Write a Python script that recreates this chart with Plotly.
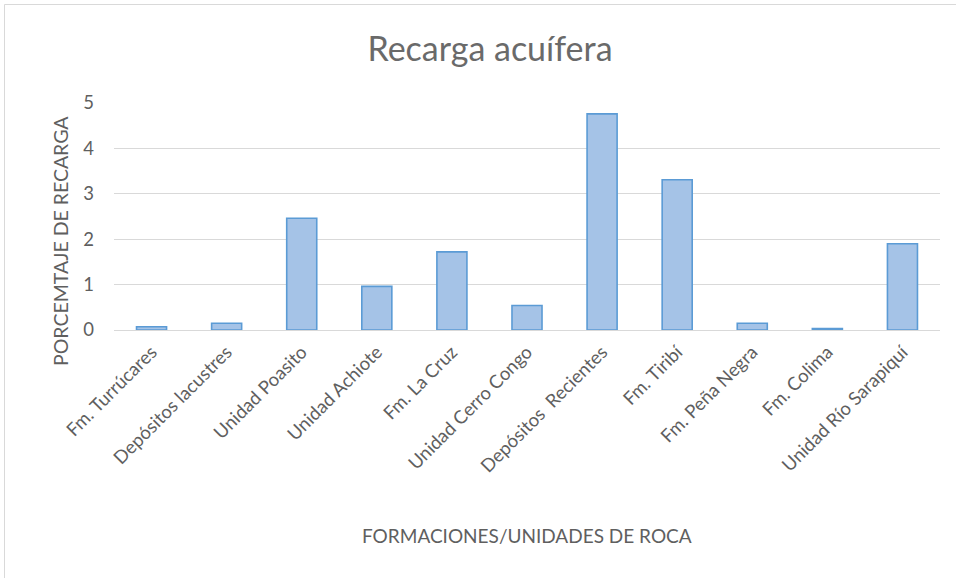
import plotly.graph_objects as go

# Recarga por formación / unidad geológica (%)
categorias = [
    "Fm. Turrúcares", "Depósitos lacustres", "Unidad Poasito", "Unidad Achiote",
    "Fm. La Cruz", "Unidad Cerro Congo", "Depósitos  Recientes", "Fm. Tiribí",
    "Fm. Peña Negra", "Fm. Colima", "Unidad Río Sarapiquí",
]
recarga = [0.07, 0.15, 2.46, 0.96, 1.72, 0.54, 4.76, 3.31, 0.15, 0.03, 1.90]
y_ticks = [0, 1, 2, 3, 4, 5]

W, H = 956, 578
L, R, T, B = 114, 16, 103, 248
pw, ph = W - L - R, H - T - B

def px_x(px):
    return (px - L) / pw

def px_y(py):
    return (H - B - py) / ph

FONT = "Lato"
GRAY = "#5f5f5f"
TITLE_GRAY = "#6a6a6a"

fig = go.Figure(go.Bar(
    x=categorias,
    y=recarga,
    width=0.4,
    marker=dict(color="#a5c3e7", line=dict(color="#5b9bd5", width=1.6)),
))

fig.update_layout(
    width=W, height=H,
    margin=dict(l=L, r=R, t=T, b=B),
    paper_bgcolor="white", plot_bgcolor="white",
    showlegend=False,
    font=dict(family=FONT, color=GRAY, size=18),
    title=dict(text="Recarga acuífera", x=490 / W, xanchor="center",
               y=1 - 49 / H, yanchor="middle",
               font=dict(family=FONT, size=34, color=TITLE_GRAY)),
    xaxis=dict(
        tickangle=-45, showgrid=False, showline=True, linecolor="#d9d9d9",
        linewidth=1, tickfont=dict(size=18.5, color=GRAY),
        ticklabelstandoff=3,
    ),
    yaxis=dict(
        range=[0, 5], tickvals=y_ticks, showgrid=True, gridcolor="#d9d9d9",
        gridwidth=1, zeroline=False, showline=False,
        tickfont=dict(size=18.5, color=GRAY), ticklabelstandoff=19,
    ),
    annotations=[
        dict(
            text="PORCEMTAJE DE RECARGA", textangle=-90, showarrow=False,
            xref="paper", yref="paper", x=px_x(60), y=px_y(241),
            xanchor="center", yanchor="middle",
            font=dict(size=19.5, color=GRAY, family=FONT),
        ),
        dict(
            text="FORMACIONES/UNIDADES DE ROCA", showarrow=False,
            xref="paper", yref="paper", x=px_x(527), y=px_y(535),
            xanchor="center", yanchor="middle",
            font=dict(size=19, color=GRAY, family=FONT),
        ),
    ],
    shapes=[dict(
        type="rect", xref="paper", yref="paper",
        x0=px_x(4.5), x1=px_x(1000), y0=px_y(620), y1=px_y(4.5),
        line=dict(color="#d9d9d9", width=1), fillcolor="rgba(0,0,0,0)",
        layer="below",
    )],
)

fig.write_html("out.html")
